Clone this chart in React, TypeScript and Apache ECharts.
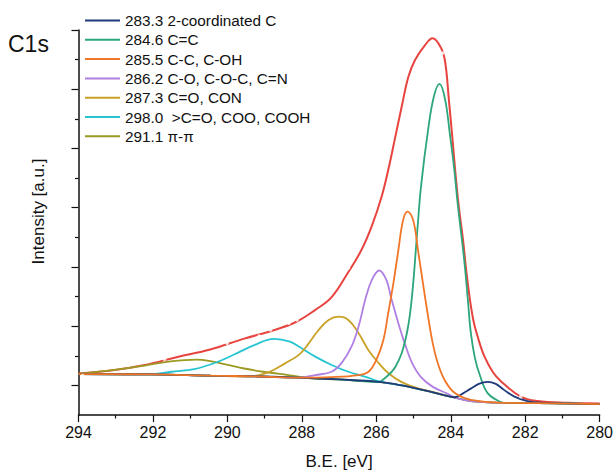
import React, { useEffect, useRef } from "react";
import * as echarts from "echarts";

const FONT = "'Liberation Sans', Arial, sans-serif";

const xMin = 280;
const xMax = 294;
const xInterval = 2;
const yMax = 13;
const yMajorTicks = [1, 3, 5, 7, 9, 11, 13];
const yMinorTicks = [2, 4, 6, 8, 10, 12];

const legendNames = [
  "283.3 2-coordinated C",
  "284.6 C=C",
  "285.5 C-C, C-OH",
  "286.2 C-O, C-O-C, C=N",
  "287.3 C=O, CON",
  "298.0  >C=O, COO, COOH",
  "291.1 π-π",
];
const colors = ["#1f3b7a", "#2ca67a", "#f07526", "#b07fe2", "#c9a126", "#27c5d2", "#9b9a22"];
const envelopeColor = "#e8443f";
const markColor = "#b4b4b4";

// Shirley background (B.E. eV, intensity a.u.)
const background: number[][] = [
  [294.0, 1.38], [292.09, 1.37], [290.46, 1.33], [289.15, 1.3], [288.08, 1.26],
  [287.01, 1.2], [285.94, 1.12], [285.41, 1.02], [285.14, 0.96], [284.53, 0.78],
  [284.21, 0.68], [283.89, 0.59], [283.46, 0.47], [282.55, 0.41], [281.67, 0.4], [280.0, 0.37],
];

const peak2833: number[][] = [
  [283.89, 0.6], [283.67, 0.73], [283.46, 0.89], [283.23, 1.06], [283.01, 1.12],
  [282.79, 1.05], [282.56, 0.84], [282.29, 0.62], [281.94, 0.47], [281.59, 0.42],
];

const peak2846: number[][] = [
  [285.86, 1.15], [285.49, 1.62], [285.22, 2.53], [285.06, 3.78], [284.9, 6.2],
  [284.8, 7.7], [284.61, 9.62], [284.45, 10.77], [284.3, 11.18], [284.15, 10.64],
  [284.02, 9.45], [283.91, 8.34], [283.81, 7.09], [283.7, 5.91], [283.62, 5.0],
  [283.54, 3.88], [283.46, 2.77], [283.35, 1.92], [283.22, 1.35], [283.01, 0.74], [282.66, 0.44],
];

const peak2855: number[][] = [
  [287.2, 1.28], [286.48, 1.35], [286.21, 1.46], [286.0, 1.86], [285.81, 2.53],
  [285.68, 3.44], [285.54, 4.46], [285.41, 5.54], [285.28, 6.58], [285.16, 6.87],
  [285.01, 6.58], [284.88, 5.57], [284.74, 4.39], [284.61, 3.34], [284.48, 2.4],
  [284.34, 1.72], [284.15, 1.15], [283.89, 0.74], [283.46, 0.51],
];

const peak2862: number[][] = [
  [287.64, 1.35], [287.2, 1.46], [286.93, 1.76], [286.67, 2.3], [286.48, 2.97],
  [286.3, 3.88], [286.12, 4.56], [285.92, 4.88], [285.73, 4.56], [285.6, 3.95],
  [285.41, 3.11], [285.22, 2.36], [285.04, 1.76], [284.8, 1.28], [284.48, 0.95], [284.07, 0.71],
];

const peak2873: number[][] = [
  [289.42, 1.3], [288.88, 1.45], [288.43, 1.76], [288.08, 2.03], [287.82, 2.41],
  [287.55, 2.87], [287.28, 3.21], [287.01, 3.32], [286.75, 3.21], [286.48, 2.77],
  [286.21, 2.19], [285.94, 1.76], [285.68, 1.42], [285.33, 1.12], [284.88, 0.9], [284.34, 0.73],
];

const peak2980: number[][] = [
  [291.5, 1.46], [290.89, 1.55], [290.27, 1.79], [289.74, 2.09], [289.28, 2.36],
  [288.75, 2.57], [288.32, 2.48], [288.08, 2.31], [287.64, 1.97], [287.2, 1.69],
  [286.75, 1.46], [286.29, 1.29], [285.94, 1.14],
];

const peak2911: number[][] = [
  [294.0, 1.4], [293.13, 1.51], [292.22, 1.67], [291.53, 1.81], [290.83, 1.87],
  [290.46, 1.82], [289.98, 1.69], [289.55, 1.57], [289.04, 1.46], [288.48, 1.37], [287.82, 1.25],
];

const envelope: number[][] = [
  [294.0, 1.4], [293.13, 1.5], [292.22, 1.69], [291.34, 1.96], [290.46, 2.21],
  [289.55, 2.58], [288.86, 2.82], [288.16, 3.14], [287.64, 3.55], [287.2, 3.98],
  [286.75, 4.83], [286.4, 5.57], [286.13, 6.35], [285.86, 7.36], [285.68, 8.27],
  [285.49, 9.39], [285.32, 10.4], [285.14, 11.41], [284.96, 11.99], [284.69, 12.49],
  [284.49, 12.72], [284.26, 12.39], [284.15, 11.92], [284.05, 10.64], [283.94, 9.12],
  [283.86, 7.97], [283.78, 6.99], [283.67, 5.91], [283.57, 4.73], [283.41, 3.31],
  [283.25, 2.53], [283.09, 1.96], [282.87, 1.45], [282.66, 1.15], [282.12, 0.62],
  [281.67, 0.47], [280.87, 0.41], [280.0, 0.39],
];

const rawMarks: number[][] = [
  [293.89, 1.33], [291.69, 1.88], [290.89, 1.99], [290.01, 2.42], [289.15, 2.67],
  [288.84, 2.87], [288.35, 3.1], [288.13, 3.21], [287.28, 4.05], [286.75, 4.96],
  [284.56, 12.55], [284.21, 12.22], [282.12, 0.62],
];

const components = [peak2833, peak2846, peak2855, peak2862, peak2873, peak2980, peak2911];

function withBackground(points: number[][]): number[][] {
  const hi = points[0][0];
  const lo = points[points.length - 1][0];
  return [
    ...background.filter((p) => p[0] > hi + 0.05),
    ...points,
    ...background.filter((p) => p[0] < lo - 0.05),
  ];
}

// drawing order (bottom -> top)
const drawOrder = [6, 5, 4, 3, 1, 0, 2];

export default function App() {
  const ref = useRef<HTMLDivElement>(null);

  useEffect(() => {
    if (!ref.current) return;
    const chart = echarts.init(ref.current, undefined, { renderer: "svg" });

    const series: any[] = [
      {
        name: "envelope",
        type: "line",
        data: envelope,
        smooth: 0.4,
        showSymbol: false,
        symbol: "none",
        lineStyle: { color: envelopeColor, width: 2 },
        itemStyle: { color: envelopeColor },
        z: 2,
      },
    ];
    drawOrder.forEach((i, k) => {
      series.push({
        name: legendNames[i],
        type: "line",
        data: withBackground(components[i]),
        smooth: 0.4,
        showSymbol: false,
        symbol: "none",
        lineStyle: { color: colors[i], width: 1.8 },
        itemStyle: { color: colors[i] },
        z: 3 + k,
      });
    });
    series.push({
      name: "data",
      type: "scatter",
      data: rawMarks,
      symbol: "emptyCircle",
      symbolSize: 3.5,
      itemStyle: { color: "transparent", borderColor: markColor, borderWidth: 0.7 },
      z: 20,
    });

    chart.setOption({
      animation: false,
      backgroundColor: "#ffffff",
      textStyle: { fontFamily: FONT },
      grid: { left: 78.5, right: 13.5, top: 30, bottom: 59, containLabel: false },
      legend: {
        data: legendNames,
        orient: "vertical",
        left: 85,
        top: 13,
        padding: 0,
        itemGap: 4.3,
        itemWidth: 35,
        itemHeight: 2,
        icon: "rect",
        selectedMode: false,
        textStyle: { fontFamily: FONT, fontSize: 15.3, lineHeight: 15, color: "#111" },
      },
      xAxis: {
        type: "value",
        min: xMin,
        max: xMax,
        interval: xInterval,
        inverse: true,
        name: "B.E. [eV]",
        nameLocation: "middle",
        nameGap: 38,
        nameTextStyle: { fontFamily: FONT, fontSize: 17, color: "#111" },
        axisLine: { show: true, onZero: false, lineStyle: { color: "#111", width: 1.5 } },
        axisTick: { show: true, inside: false, length: 7, lineStyle: { color: "#111", width: 1.2 } },
        minorTick: { show: true, splitNumber: 2, length: 3.5, lineStyle: { color: "#111", width: 1.2 } },
        axisLabel: { fontFamily: FONT, fontSize: 16, color: "#111", margin: 9 },
        splitLine: { show: false },
        minorSplitLine: { show: false },
      },
      yAxis: [
        {
          type: "value",
          min: 0,
          max: yMax,
          position: "left",
          axisLine: { show: true, onZero: false, lineStyle: { color: "#111", width: 1.5 } },
          axisTick: { show: true, inside: false, length: 3.5, customValues: yMinorTicks, lineStyle: { color: "#111", width: 1.2 } },
          axisLabel: { show: false },
          splitLine: { show: false },
        },
        {
          type: "value",
          min: 0,
          max: yMax,
          position: "left",
          offset: 0,
          axisLine: { show: false },
          axisTick: { show: true, inside: false, length: 7, customValues: yMajorTicks, lineStyle: { color: "#111", width: 1.2 } },
          axisLabel: { show: false },
          splitLine: { show: false },
        },
      ],
      graphic: [
        {
          type: "text",
          left: 8,
          top: 32,
          style: { text: "C1s", font: `23px ${FONT}`, fill: "#111" },
        },
        {
          type: "text",
          x: 38.5,
          y: 211.5,
          rotation: Math.PI / 2,
          style: {
            text: "Intensity [a.u.]",
            font: `17px ${FONT}`,
            fill: "#111",
            align: "center",
            verticalAlign: "middle",
          },
        },
      ],
      series,
    });

    return () => chart.dispose();
  }, []);

  return (
    <div
      ref={ref}
      style={{ position: "absolute", left: 0, top: 0, width: 616, height: 475 }}
    />
  );
}
